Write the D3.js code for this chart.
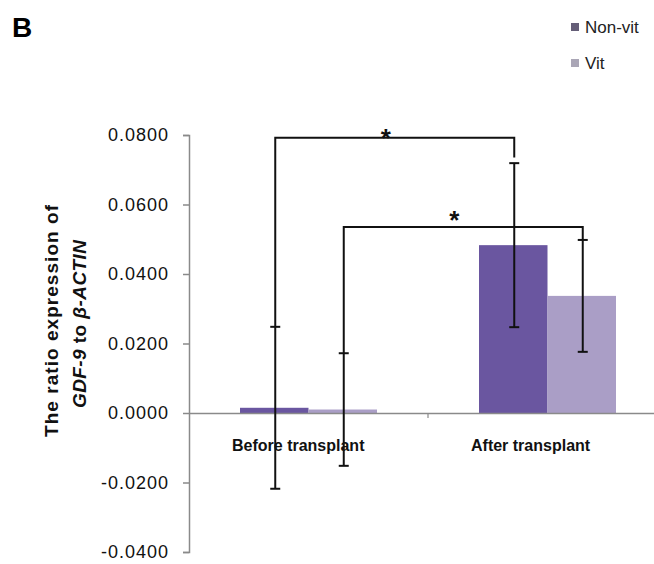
<!DOCTYPE html>
<html><head><meta charset="utf-8">
<script src="https://cdn.jsdelivr.net/npm/d3@7"></script>
<style>body{margin:0;background:#fff}svg{display:block}</style>
</head><body>
<svg id="c" width="654" height="564"></svg>
<script>
const categories = ["Before transplant", "After transplant"];
const seriesNames = ["Non-vit", "Vit"];
const nonVit = [0.0015, 0.0483];
const vit = [0.0010, 0.0337];
const nonVitErr = [0.0233, 0.0236];
const vitErr = [0.0162, 0.0161];
const yTicks = [-0.04, -0.02, 0, 0.02, 0.04, 0.06, 0.08];
const sigBrackets = [
  {a: [0, "Non-vit"], b: [1, "Non-vit"], y: 0.0792, rightEnd: 0.0735, star: 0.0806},
  {a: [0, "Vit"], b: [1, "Vit"], y: 0.0535, rightEnd: null, star: 0.0570}
];

const svg = d3.select("#c");
const colors = {"Non-vit": "#6a56a0", "Vit": "#aa9ec6"};
const legendColors = {"Non-vit": "#655e78", "Vit": "#aaa6b6"};
const font = "'Liberation Sans', Arial, sans-serif";

const y = d3.scaleLinear().domain([-0.04, 0.08]).range([552, 135]);
const x0 = d3.scaleBand().domain(categories).range([189, 667]).padding(0);
const groupW = 137;
const x1 = d3.scaleBand().domain(seriesNames).range([0, groupW]).padding(0);
const gx = c => x0(c) + (x0.bandwidth() - groupW) / 2;

const vals = {"Non-vit": nonVit, "Vit": vit};
const errs = {"Non-vit": nonVitErr, "Vit": vitErr};
const rows = [];
categories.forEach((c, i) => seriesNames.forEach(s => rows.push({c, i, s, v: vals[s][i], e: errs[s][i]})));

// bars
svg.append("g").selectAll("rect").data(rows).join("rect")
  .attr("x", d => gx(d.c) + x1(d.s))
  .attr("width", x1.bandwidth())
  .attr("y", d => y(Math.max(0, d.v)))
  .attr("height", d => Math.abs(y(d.v) - y(0)))
  .attr("fill", d => colors[d.s]);

// y axis
const yAxis = d3.axisLeft(y).tickValues(yTicks).tickFormat(d => d.toFixed(4)).tickSize(6).tickPadding(14);
const ga = svg.append("g").attr("transform", "translate(189,0)").call(yAxis);
ga.select(".domain").attr("stroke", "#8a8a8a").attr("stroke-width", 1.5);
ga.selectAll(".tick line").attr("stroke", "#8a8a8a").attr("stroke-width", 1.5);
ga.selectAll(".tick text").attr("font-family", font).attr("font-size", 18).attr("fill", "#111")
  .attr("letter-spacing", 1);

// x axis line at 0
const xa = d3.axisBottom(x0).tickSize(0).tickFormat("");
const gxa = svg.append("g").attr("transform", `translate(0,${y(0)})`).call(xa);
gxa.select(".domain").attr("stroke", "#8a8a8a").attr("stroke-width", 1.5);
svg.append("line").attr("x1", x0(categories[1])).attr("x2", x0(categories[1]))
  .attr("y1", y(0)).attr("y2", y(0) + 5).attr("stroke", "#8a8a8a").attr("stroke-width", 1.2);

// category labels
svg.append("g").selectAll("text").data(categories).join("text")
  .attr("x", d => x0(d) + 43).attr("y", 451)
  .attr("font-family", font).attr("font-size", 16).attr("font-weight", "bold")
  .attr("fill", "#111").text(d => d);

// error bars
const ex = d => gx(d.c) + x1(d.s) + x1.bandwidth() / 2 + 1;
const eg = svg.append("g").attr("stroke", "#111").attr("stroke-width", 2);
rows.forEach(d => {
  eg.append("line").attr("x1", ex(d)).attr("x2", ex(d)).attr("y1", y(d.v + d.e)).attr("y2", y(d.v - d.e));
  [d.v + d.e, d.v - d.e].forEach(t => eg.append("line").attr("x1", ex(d) - 5).attr("x2", ex(d) + 5).attr("y1", y(t)).attr("y2", y(t)));
});

// significance brackets
const bg = svg.append("g");
sigBrackets.forEach(b => {
  const ra = rows.find(r => r.i === b.a[0] && r.s === b.a[1]);
  const rb = rows.find(r => r.i === b.b[0] && r.s === b.b[1]);
  const xa_ = ex(ra), xb_ = ex(rb);
  const rEnd = b.rightEnd !== null ? b.rightEnd : rb.v + rb.e;
  bg.append("path")
    .attr("d", `M${xa_},${y(ra.v + ra.e)}V${y(b.y)}H${xb_}V${y(rEnd)}`)
    .attr("fill", "none").attr("stroke", "#111").attr("stroke-width", 2);
  bg.append("text").attr("x", (xa_ + xb_) / 2 - 9).attr("y", y(b.star) + 14)
    .attr("text-anchor", "middle").attr("font-family", font).attr("font-size", 26).attr("font-weight", "bold")
    .attr("fill", "#111").text("*");
});

// y title
const tg = svg.append("g").attr("font-family", font).attr("font-weight", "bold").attr("font-size", 19).attr("fill", "#111");
tg.append("text").attr("transform", "translate(58,321) rotate(-90)").attr("text-anchor", "middle")
  .attr("textLength", 232).attr("lengthAdjust", "spacing").text("The ratio expression of");
const t2 = tg.append("text").attr("transform", "translate(86,324) rotate(-90)").attr("text-anchor", "middle")
  .attr("textLength", 168).attr("lengthAdjust", "spacing");
t2.append("tspan").attr("font-style", "italic").text("GDF-9");
t2.append("tspan").text(" to ");
t2.append("tspan").attr("font-style", "italic").text("β-ACTIN");

// panel letter
svg.append("text").attr("x", 12).attr("y", 37).attr("font-family", font).attr("font-weight", "bold")
  .attr("font-size", 28).attr("fill", "#000").text("B");

// legend
const lg = svg.append("g").selectAll("g").data(seriesNames).join("g")
  .attr("transform", (d, i) => `translate(571,${27 + i * 36})`);
lg.append("rect").attr("x", 0).attr("y", -4).attr("width", 8).attr("height", 8).attr("fill", d => legendColors[d]);
lg.append("text").attr("x", 14).attr("y", 6).attr("font-family", font).attr("font-size", 17)
  .attr("fill", "#222").text(d => d);
</script>
</body></html>
